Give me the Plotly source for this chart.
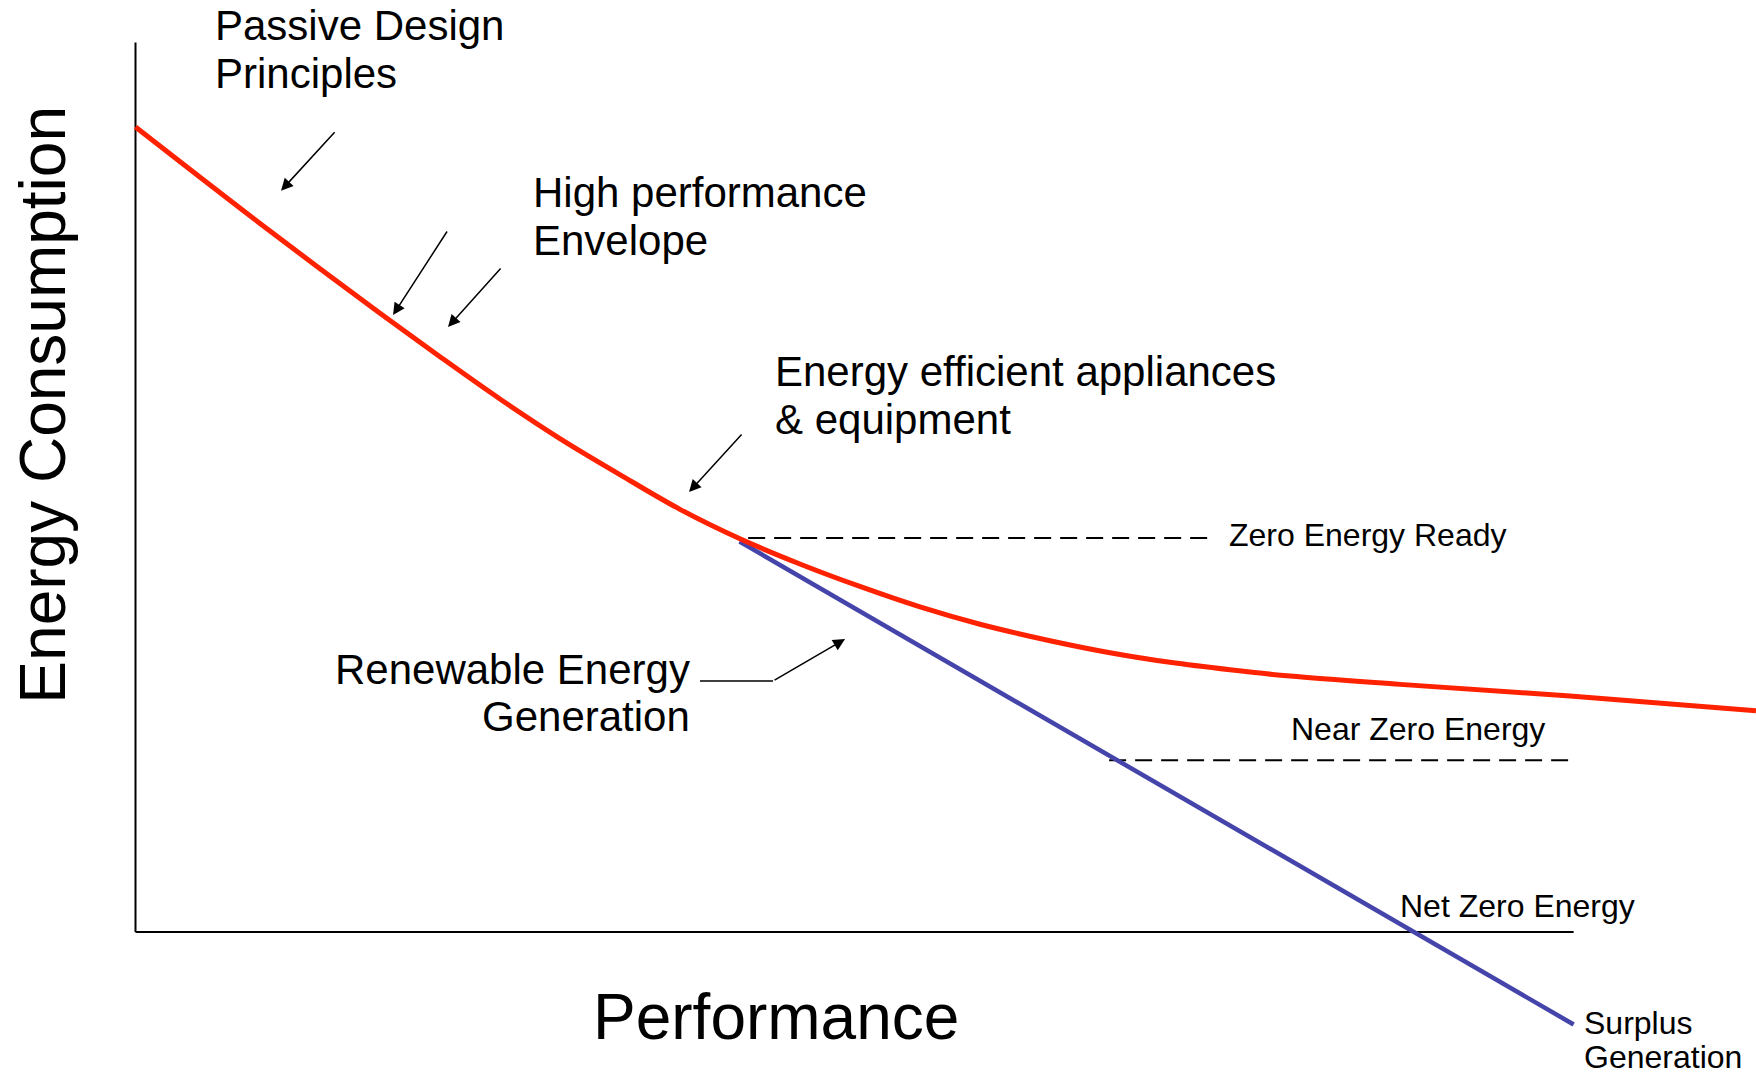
import plotly.graph_objects as go

# ---- data (performance units on x, energy-consumption units on y) ----
consumption_x = [0, 4.49, 8.66, 12.83, 17.00, 21.17, 25.34, 29.51, 33.68, 37.86, 42.03,
                 46.20, 50.37, 54.55, 58.72, 63.59, 67.76, 71.93, 76.10, 80.28, 87.93,
                 99.75, 112.68]
consumption_y = [90.51, 84.86, 79.66, 74.57, 69.57, 64.68, 59.93, 55.48, 51.43, 47.52, 44.21,
                 41.38, 38.85, 36.55, 34.60, 32.75, 31.40, 30.32, 29.48, 28.77, 27.84,
                 26.53, 24.88]

renewable_x = [42.0, 100.0]
renewable_y = [43.9, -10.4]

zero_ready_x = [42.6, 74.9]
zero_ready_y = [44.3, 44.3]
near_zero_x = [67.7, 100.0]
near_zero_y = [19.3, 19.3]

axis_x_line = ([0, 100], [0, 0])
axis_y_line = ([0, 0], [0, 100])

# text labels: (text, x, y, size, anchor)
labels = [
    ("Passive Design", 5.4, 101.9, 42, "left"),
    ("Principles", 5.4, 96.5, 42, "left"),
    ("High performance", 27.5, 83.1, 42, "left"),
    ("Envelope", 27.5, 77.7, 42, "left"),
    ("Energy efficient appliances", 44.3, 63.0, 42, "left"),
    ("& equipment", 44.3, 57.6, 42, "left"),
    ("Renewable Energy", 38.7, 29.5, 42, "right"),
    ("Generation", 38.7, 24.2, 42, "right"),
    ("Zero Energy Ready", 75.9, 44.6, 32, "left"),
    ("Near Zero Energy", 80.2, 22.8, 32, "left"),
    ("Net Zero Energy", 87.8, 2.9, 32, "left"),
    ("Surplus", 100.6, -10.2, 32, "left"),
    ("Generation", 100.6, -14.1, 32, "left"),
]

# arrows: (tail_x, tail_y, tip_x, tip_y)
arrows = [
    (13.94, 90.10, 10.12, 83.35),
    (21.73, 78.93, 17.91, 69.37),
    (25.48, 74.77, 21.73, 68.02),
    (42.24, 56.11, 38.49, 49.47),
    (44.33, 28.22, 49.34, 32.94),
]
leader_x = [39.25, 44.33]
leader_y = [28.22, 28.22]

FONT = "Liberation Sans, Arial, Helvetica, sans-serif"

fig = go.Figure()

fig.add_trace(go.Scatter(x=axis_y_line[0], y=axis_y_line[1], mode="lines",
                         line=dict(color="black", width=2), hoverinfo="skip"))
fig.add_trace(go.Scatter(x=axis_x_line[0], y=axis_x_line[1], mode="lines",
                         line=dict(color="black", width=2), hoverinfo="skip"))
fig.add_trace(go.Scatter(x=zero_ready_x, y=zero_ready_y, mode="lines",
                         line=dict(color="black", width=2, dash="17px,9px"), hoverinfo="skip"))
fig.add_trace(go.Scatter(x=near_zero_x, y=near_zero_y, mode="lines",
                         line=dict(color="black", width=2, dash="17px,9px"), hoverinfo="skip"))
fig.add_trace(go.Scatter(x=renewable_x, y=renewable_y, mode="lines",
                         line=dict(color="#4444AA", width=4.5), hoverinfo="skip"))
fig.add_trace(go.Scatter(x=consumption_x, y=consumption_y, mode="lines",
                         line=dict(color="#FF2200", width=5, shape="spline", smoothing=1.0),
                         hoverinfo="skip"))
fig.add_trace(go.Scatter(x=leader_x, y=leader_y, mode="lines",
                         line=dict(color="black", width=1.5), hoverinfo="skip"))

annotations = []
for text, x, y, size, anchor in labels:
    annotations.append(dict(x=x, y=y, xref="x", yref="y", text=text, showarrow=False,
                            xanchor=anchor, yanchor="middle",
                            font=dict(family=FONT, size=size, color="black")))

for tx, ty, hx, hy in arrows:
    annotations.append(dict(x=hx, y=hy, ax=tx, ay=ty, xref="x", yref="y",
                            axref="x", ayref="y", text="", showarrow=True,
                            arrowhead=2, arrowsize=1.6, arrowwidth=1.5,
                            arrowcolor="black", standoff=0, startstandoff=0))

annotations.append(dict(x=44.54, y=-9.56, xref="x", yref="y", text="Performance",
                        showarrow=False, xanchor="center", yanchor="middle",
                        font=dict(family=FONT, size=64, color="black")))
annotations.append(dict(x=-6.46, y=59.25, xref="x", yref="y", text="Energy Consumption",
                        showarrow=False, xanchor="center", yanchor="middle", textangle=-90,
                        font=dict(family=FONT, size=64, color="black")))

fig.update_layout(
    width=1756, height=1075,
    margin=dict(l=0, r=0, t=0, b=0),
    paper_bgcolor="white", plot_bgcolor="white",
    showlegend=False, hovermode=False,
    xaxis=dict(range=[-9.422, 112.68], visible=False, fixedrange=True),
    yaxis=dict(range=[-16.08, 104.79], visible=False, fixedrange=True),
    annotations=annotations,
)

fig.write_html("out.html", config=dict(displayModeBar=False),
               post_script="document.body.style.margin='0px';document.body.style.overflow='hidden';")
